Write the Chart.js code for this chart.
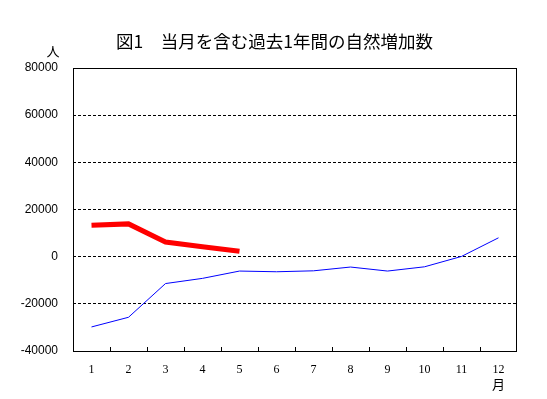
<!DOCTYPE html>
<html><head><meta charset="utf-8">
<script src="https://cdn.jsdelivr.net/npm/chart.js@4"></script>
<style>html,body{margin:0;padding:0;background:#fff}#wrap{width:547px;height:399px}</style>
</head><body><div id="wrap"><canvas id="c" width="547" height="399"></canvas></div>
<script>
const months = ['1','2','3','4','5','6','7','8','9','10','11','12'];
const currentYear = [13300, 13900, 6200, 4200, 2300];
const previousYear = [-29800, -25700, -11400, -9200, -6100, -6400, -6000, -4400, -6100, -4300, 100, 8000];
const titleText = '図1　当月を含む過去1年間の自然増加数';
const yUnit = '人';
const xUnit = '月';

const decor = {
  id: 'decor',
  afterDraw(chart) {
    const ctx = chart.ctx, a = chart.chartArea, xs = chart.scales.x;
    ctx.save();
    ctx.strokeStyle = '#000'; ctx.lineWidth = 1;
    ctx.strokeRect(a.left + 0.5, a.top + 0.5, a.right - a.left - 1, a.bottom - a.top);
    ctx.beginPath();
    for (let i = 1; i < months.length; i++) {
      const x = Math.round((xs.getPixelForValue(i - 1) + xs.getPixelForValue(i)) / 2) + 0.5;
      ctx.moveTo(x, a.bottom); ctx.lineTo(x, a.bottom - 4);
    }
    ctx.stroke();
    ctx.fillStyle = '#000';
    ctx.textAlign = 'left'; ctx.textBaseline = 'middle';
    ctx.font = '17.5px "Noto Sans CJK JP"';
    ctx.fillText(titleText, 116, 41);
    ctx.textAlign = 'center';
    ctx.font = '13px "Noto Sans CJK JP"';
    ctx.fillText(yUnit, 53, 51);
    ctx.fillText(xUnit, xs.getPixelForValue(11), 384);
    ctx.restore();
  }
};

new Chart(document.getElementById('c'), {
  type: 'line',
  data: {
    labels: months,
    datasets: [
      { data: previousYear, borderColor: '#0000ff', borderWidth: 1, pointRadius: 0, tension: 0, fill: false },
      { data: currentYear, borderColor: '#ff0000', borderWidth: 5, pointRadius: 0, tension: 0, fill: false }
    ]
  },
  options: {
    responsive: false, animation: false,
    layout: { padding: { top: 68, right: 30, left: 0, bottom: 0 } },
    plugins: { legend: { display: false }, tooltip: { enabled: false } },
    scales: {
      x: {
        offset: true,
        grid: { display: false },
        border: { display: false },
        ticks: { color: '#000', font: { family: 'Liberation Serif', size: 12 }, padding: 4, maxRotation: 0 },
        afterFit(s) { s.height = 48; }
      },
      y: {
        min: -40000, max: 80000,
        grid: {
          drawTicks: false,
          color: (c) => (c.tick && (c.tick.value === 80000 || c.tick.value === -40000)) ? 'rgba(0,0,0,0)' : '#000'
        },
        border: { display: false, dash: [3, 2] },
        ticks: { stepSize: 20000, color: '#000', font: { family: 'Liberation Sans', size: 12 }, padding: 15,
                 callback: (v) => String(v) },
        afterFit(s) { s.width = 73; }
      }
    }
  },
  plugins: [decor]
});
</script></body></html>
